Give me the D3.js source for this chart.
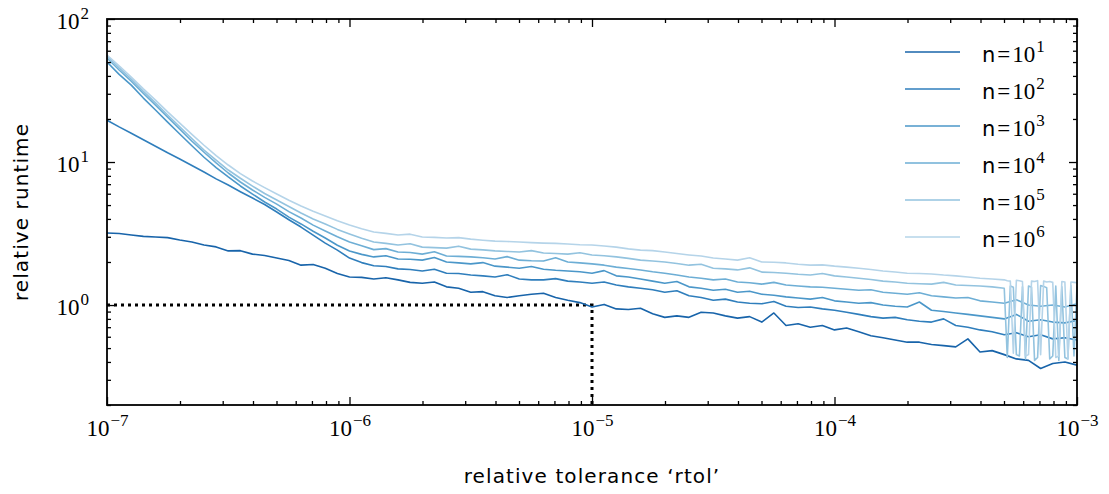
<!DOCTYPE html>
<html>
  <head>
    <meta charset="utf-8">
    <title>relative runtime vs rtol</title>
    <script src="https://cdn.jsdelivr.net/npm/d3@7"></script>
    <style>
      body { margin: 0; background: #fff; }
      svg { display: block; background: #fff; }
      .frame { fill: none; stroke: #000; stroke-width: 1.8; }
      .tick line { stroke: #000; stroke-width: 1.3; }
      .domain { display: none; }
      .math { font-family: "Liberation Serif", serif; font-size: 23px; fill: #000; }
      .label { font-family: "DejaVu Sans", sans-serif; font-size: 20px; letter-spacing: 1.1px; fill: #000; }
      .series { fill: none; stroke-width: 1.6; stroke-linejoin: round; }
      .guide { fill: none; stroke: #000; stroke-width: 3; stroke-dasharray: 3 4; }
    </style>
  </head>
  <body>
    <svg id="chart" width="1109" height="494"></svg>

    <script>
      // data: log10(rtol) grid, runtime relative to the default rtol
      logMain = d3.range(81).map(function(i) { return -7 + i * 0.05; });
      logTail = d3.range(1, 25).map(function(i) { return -3.3 + i * 0.0125; });

      exponents = [1, 2, 3, 4, 5, 6];

      run1 = [3.19, 3.16, 3.09, 3.02, 2.99, 2.96, 2.85, 2.76, 2.63, 2.55,
        2.39, 2.40, 2.27, 2.22, 2.13, 2.05, 1.90, 1.92, 1.81, 1.66,
        1.57, 1.56, 1.52, 1.55, 1.50, 1.44, 1.42, 1.45, 1.34, 1.31,
        1.23, 1.24, 1.16, 1.13, 1.16, 1.19, 1.21, 1.13, 1.08, 1.04,
        0.97, 1.01, 0.94, 0.93, 0.95, 0.87, 0.82, 0.84, 0.82, 0.89,
        0.88, 0.84, 0.81, 0.83, 0.76, 0.88, 0.72, 0.74, 0.70, 0.72,
        0.67, 0.69, 0.65, 0.61, 0.59, 0.57, 0.55, 0.55, 0.53, 0.52,
        0.51, 0.58, 0.47, 0.48, 0.45, 0.42, 0.41, 0.36, 0.39, 0.40,
        0.38];
      run2 = [19.6, 17.6, 15.9, 14.3, 12.9, 11.6, 10.5, 9.45, 8.51, 7.62,
        6.90, 6.20, 5.60, 5.05, 4.47, 3.95, 3.51, 3.08, 2.71, 2.42,
        2.13, 1.98, 1.88, 1.86, 1.79, 1.77, 1.73, 1.78, 1.67, 1.66,
        1.62, 1.60, 1.57, 1.63, 1.52, 1.50, 1.50, 1.53, 1.47, 1.45,
        1.42, 1.45, 1.38, 1.34, 1.31, 1.28, 1.23, 1.26, 1.16, 1.13,
        1.08, 1.10, 1.05, 1.03, 1.02, 1.06, 0.98, 0.96, 0.97, 0.94,
        0.92, 0.89, 0.86, 0.83, 0.81, 0.82, 0.79, 0.77, 0.76, 0.80,
        0.72, 0.70, 0.67, 0.65, 0.62, 0.64, 0.60, 0.62, 0.58, 0.59,
        0.57];
      run3 = [50.0, 41.0, 34.5, 28.0, 23.1, 19.0, 15.7, 13.0, 10.8, 9.15,
        7.86, 6.80, 5.97, 5.25, 4.69, 4.12, 3.69, 3.28, 2.94, 2.62,
        2.39, 2.26, 2.17, 2.21, 2.10, 2.09, 2.06, 2.15, 2.00, 1.97,
        1.94, 1.98, 1.87, 1.84, 1.81, 1.86, 1.78, 1.75, 1.73, 1.71,
        1.67, 1.74, 1.60, 1.57, 1.52, 1.47, 1.42, 1.46, 1.34, 1.31,
        1.27, 1.29, 1.23, 1.25, 1.19, 1.17, 1.14, 1.12, 1.10, 1.13,
        1.07, 1.05, 1.03, 1.04, 1.00, 0.98, 0.97, 1.05, 0.92, 0.90,
        0.88, 0.86, 0.84, 0.82, 0.80, 0.86, 0.77, 0.79, 0.76, 0.75,
        0.78];
      run4 = [53.4, 44.0, 36.8, 30.2, 25.0, 20.6, 17.0, 14.0, 11.7, 9.85,
        8.38, 7.25, 6.37, 5.66, 5.08, 4.50, 4.06, 3.62, 3.29, 3.00,
        2.76, 2.60, 2.44, 2.48, 2.35, 2.33, 2.27, 2.36, 2.20, 2.19,
        2.17, 2.14, 2.10, 2.18, 2.06, 2.04, 2.03, 2.14, 2.00, 1.97,
        1.94, 1.90, 1.84, 1.80, 1.76, 1.71, 1.67, 1.62, 1.57, 1.54,
        1.50, 1.52, 1.45, 1.43, 1.40, 1.44, 1.38, 1.36, 1.34, 1.33,
        1.31, 1.29, 1.27, 1.28, 1.23, 1.21, 1.19, 1.22, 1.16, 1.14,
        1.12, 1.13, 1.07, 1.05, 1.03, 1.09, 1.00, 0.98, 1.00, 0.97,
        1.02];
      // n=10^5 and n=10^6 switch to the fine tail grid after 10^-3.3
      run5 = [55.1, 45.5, 38.0, 31.2, 25.9, 21.3, 17.6, 14.6, 12.1, 10.3,
        8.79, 7.70, 6.79, 6.02, 5.42, 4.88, 4.40, 4.00, 3.69, 3.38,
        3.14, 2.93, 2.76, 2.70, 2.63, 2.68, 2.54, 2.52, 2.50, 2.58,
        2.46, 2.43, 2.39, 2.37, 2.35, 2.40, 2.31, 2.29, 2.27, 2.32,
        2.24, 2.21, 2.17, 2.12, 2.06, 2.03, 2.00, 1.95, 1.90, 1.93,
        1.81, 1.79, 1.76, 1.82, 1.70, 1.69, 1.67, 1.64, 1.62, 1.66,
        1.60, 1.57, 1.54, 1.51, 1.47, 1.45, 1.42, 1.41, 1.40, 1.44,
        1.38, 1.37, 1.36, 1.34, 1.31];
      run5Tail = [0.43, 1.36, 1.33, 0.45, 0.44, 1.34, 0.42, 1.36, 1.33, 0.41,
        0.43, 1.37, 1.35, 1.32, 0.42, 0.44, 1.36, 0.41, 1.34, 0.43,
        0.42, 1.37, 0.44, 1.35];
      run6 = [56.0, 47.0, 39.3, 32.5, 27.1, 22.4, 18.7, 15.6, 13.1, 11.1,
        9.53, 8.30, 7.36, 6.62, 5.97, 5.40, 4.92, 4.52, 4.19, 3.88,
        3.63, 3.42, 3.24, 3.17, 3.09, 3.13, 2.99, 2.97, 2.94, 2.96,
        2.89, 2.84, 2.80, 2.78, 2.76, 2.73, 2.71, 2.70, 2.67, 2.64,
        2.63, 2.59, 2.54, 2.47, 2.42, 2.40, 2.35, 2.29, 2.24, 2.20,
        2.13, 2.10, 2.06, 2.14, 2.00, 1.99, 1.97, 1.93, 1.90, 1.91,
        1.87, 1.84, 1.81, 1.77, 1.73, 1.70, 1.67, 1.66, 1.65, 1.62,
        1.60, 1.57, 1.54, 1.52, 1.50];
      run6Tail = [1.48, 1.47, 0.46, 1.49, 1.48, 1.46, 0.44, 0.45, 1.47, 1.46,
        1.48, 0.45, 1.47, 1.45, 1.46, 1.44, 0.43, 0.44, 1.46, 1.45,
        0.42, 1.45, 1.44, 1.43];

      xMajor = [-7, -6, -5, -4, -3];
      yMajor = [0, 1, 2];
      guideRtol = 1e-5;
      guideRuntime = 1;

      // build series
      logFine = logMain.slice(0, 75).concat(logTail);
      runs = [
        { logs: logMain, vals: run1 },
        { logs: logMain, vals: run2 },
        { logs: logMain, vals: run3 },
        { logs: logMain, vals: run4 },
        { logs: logFine, vals: run5.concat(run5Tail) },
        { logs: logFine, vals: run6.concat(run6Tail) }
      ];
      series = runs.map(function(r, i) {
        return {
          n: exponents[i],
          points: r.vals.map(function(v, j) { return [Math.pow(10, r.logs[j]), v]; })
        };
      });

      // layout
      svg = d3.select("#chart");
      left = 107; right = 1077; top_ = 19; bottom = 405;

      x = d3.scaleLog().domain([1e-7, 1e-3]).range([left, right]);
      y = d3.scaleLog().domain([0.2, 100]).range([bottom, top_]);

      colour = d3.scaleLinear().domain([1, 6]).range([0.8, 0.3]);

      minorX = [];
      d3.range(-7, -3).forEach(function(e) {
        d3.range(2, 10).forEach(function(m) { minorX.push(m * Math.pow(10, e)); });
      });
      minorY = [];
      [-1, 0, 1].forEach(function(e) {
        d3.range(2, 10).forEach(function(m) { minorY.push(m * Math.pow(10, e)); });
      });

      line = d3.line()
        .x(function(d) { return x(d[0]); })
        .y(function(d) { return y(d[1]); });

      // guides
      svg.append("path")
        .classed("guide", true)
        .attr("d", line([[1e-7, guideRuntime], [guideRtol, guideRuntime], [guideRtol, 0.2]]));

      // runs
      svg.selectAll(".series")
        .data(series)
      .enter().append("path")
        .classed("series", true)
        .attr("stroke", function(d) { return d3.interpolateBlues(colour(d.n)); })
        .attr("d", function(d) { return line(d.points); });

      // axes: inward ticks on all four sides
      function addAxis(axisFn, scale, values, size, transform) {
        return svg.append("g")
          .attr("transform", transform)
          .call(axisFn(scale).tickValues(values).tickSize(-size).tickFormat(""));
      }
      xTicks = xMajor.map(function(e) { return Math.pow(10, e); });
      yTicks = yMajor.map(function(e) { return Math.pow(10, e); });

      xAxis = addAxis(d3.axisBottom, x, xTicks, 8, "translate(0," + bottom + ")");
      addAxis(d3.axisBottom, x, minorX, 4, "translate(0," + bottom + ")");
      addAxis(d3.axisTop, x, xTicks, 8, "translate(0," + top_ + ")");
      addAxis(d3.axisTop, x, minorX, 4, "translate(0," + top_ + ")");
      yAxis = addAxis(d3.axisLeft, y, yTicks, 8, "translate(" + left + ",0)");
      addAxis(d3.axisLeft, y, minorY, 4, "translate(" + left + ",0)");
      addAxis(d3.axisRight, y, yTicks, 8, "translate(" + right + ",0)");
      addAxis(d3.axisRight, y, minorY, 4, "translate(" + right + ",0)");

      function power(text, exp) {
        text.append("tspan").text("10");
        text.append("tspan")
          .attr("dy", -10)
          .attr("dx", 1)
          .style("font-size", "17px")
          .text(String(exp).replace("-", "\u2212"));
      }

      xAxis.selectAll(".tick").each(function(d, i) {
        let t = d3.select(this).append("text")
          .classed("math", true)
          .attr("text-anchor", "middle")
          .attr("y", 31);
        power(t, xMajor[i]);
      });

      yAxis.selectAll(".tick").each(function(d, i) {
        let t = d3.select(this).append("text")
          .classed("math", true)
          .attr("text-anchor", "end")
          .attr("x", -18)
          .attr("y", 9);
        power(t, yMajor[i]);
      });

      svg.append("rect")
        .classed("frame", true)
        .attr("x", left)
        .attr("y", top_)
        .attr("width", right - left)
        .attr("height", bottom - top_);

      // axis titles
      svg.append("text")
        .classed("label", true)
        .attr("text-anchor", "middle")
        .attr("x", (left + right) / 2)
        .attr("y", 483)
        .text("relative tolerance \u2018rtol\u2019");

      svg.append("text")
        .classed("label", true)
        .attr("text-anchor", "middle")
        .attr("transform", "translate(28," + ((top_ + bottom) / 2) + ") rotate(-90)")
        .text("relative runtime");

      // legend
      legend = svg.append("g")
        .attr("transform", "translate(905,52)");
      rows = legend.selectAll("g")
        .data(series)
      .enter().append("g")
        .attr("transform", function(d, i) { return "translate(0," + i * 37 + ")"; });
      rows.append("line")
        .attr("x2", 55)
        .attr("stroke-width", 1.6)
        .attr("stroke", function(d) { return d3.interpolateBlues(colour(d.n)); });
      rows.each(function(d) {
        let t = d3.select(this).append("text")
          .classed("math", true)
          .attr("x", 77)
          .attr("y", 10);
        t.append("tspan")
          .style("font-family", "'DejaVu Sans', sans-serif")
          .style("font-size", "21px")
          .text("n");
        t.append("tspan").attr("dx", 2).text("=");
        t.append("tspan").attr("dx", 2).text("10");
        t.append("tspan")
          .attr("dy", -10)
          .attr("dx", 1)
          .style("font-size", "17px")
          .text(d.n);
      });
    </script>
  </body>
</html>
